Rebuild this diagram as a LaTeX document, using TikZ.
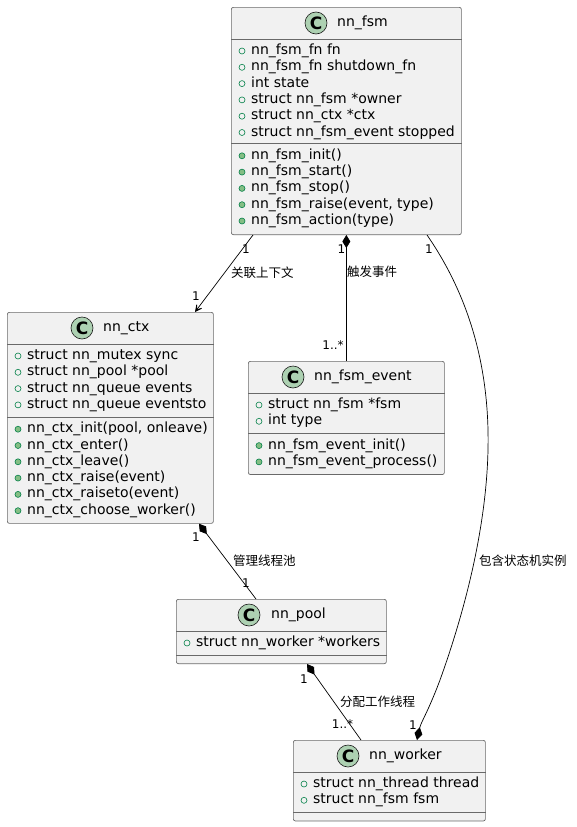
\documentclass[tikz,border=0pt]{standalone}
\usepackage{fontspec}
\setmainfont{DejaVu Sans}
\newfontfamily\cjkfont{Noto Sans CJK SC}
\usetikzlibrary{arrows.meta}
\definecolor{boxgray}{HTML}{F1F1F1}
\definecolor{boxline}{HTML}{181818}
\definecolor{spotgreen}{HTML}{ADD1B2}
\definecolor{darkgreen}{HTML}{038048}
\definecolor{lightgreen}{HTML}{84BE84}
\begin{document}
\begin{tikzpicture}[x=1pt, y=-1pt,
		classbox/.style={draw=boxline!65, fill=boxgray, rounded corners=2pt, line width=0.7pt, inner sep=0, anchor=north west},
		sepline/.style={draw=boxline!65, line width=0.7pt},
		spot/.style={circle, draw=boxline, fill=spotgreen, line width=0.6pt, minimum size=22pt, inner sep=0, font=\fontsize{17}{17}\selectfont\bfseries},
		cname/.style={anchor=west, inner sep=0, text height=10pt, text depth=3pt, font=\fontsize{14}{14}\selectfont},
		member/.style={anchor=west, inner sep=0, text height=10pt, text depth=3pt, font=\fontsize{14}{14}\selectfont},
		field/.style={circle, draw=darkgreen, line width=0.6pt, minimum size=6pt, inner sep=0},
		method/.style={field, fill=lightgreen},
		rel/.style={draw=black, line width=0.7pt},
		comp/.style={rel, {Diamond[length=13pt,width=8pt]}-},
		assoc/.style={rel, -{Stealth[length=10pt,width=10pt,inset=6.5pt]}},
		mult/.style={inner sep=0, font=\fontsize{12}{12}\selectfont},
		relname/.style={anchor=west, inner sep=0, font=\cjkfont\fontsize{12.5}{12.5}\selectfont}
	]
	\useasboundingbox (0,0) rectangle (576,827);

	% nn_fsm
	\node[classbox, minimum width=230, minimum height=227.3] (fsm) at (231,7) {};
	\draw[sepline] ([yshift=-32pt]fsm.north west) -- ([yshift=-32pt]fsm.north east);
	\draw[sepline] ([yshift=-136.8pt]fsm.north west) -- ([yshift=-136.8pt]fsm.north east);
	\node[spot] (fsm-c) at (316,23) {C};
	\node[cname] (fsm-t) at (337,23) {nn\_fsm};
	\foreach \m [count=\i from 0] in {nn\_fsm\_fn fn, nn\_fsm\_fn shutdown\_fn, int state, struct nn\_fsm *owner, struct nn\_ctx *ctx, struct nn\_fsm\_event stopped} {
		\node[field] (fsm-f\i) at (242,51+16.3*\i) {};
		\node[member] (fsm-a\i) at (251,51+16.3*\i) {\m};
	}
	\foreach \m [count=\i from 0] in {nn\_fsm\_init(), nn\_fsm\_start(), nn\_fsm\_stop(), {nn\_fsm\_raise(event, type)}, nn\_fsm\_action(type)} {
		\node[method] (fsm-g\i) at (242,155.8+16.3*\i) {};
		\node[member] (fsm-m\i) at (251,155.8+16.3*\i) {\m};
	}

	% nn_ctx
	\node[classbox, minimum width=206, minimum height=211] (ctx) at (7,312) {};
	\draw[sepline] ([yshift=-32pt]ctx.north west) -- ([yshift=-32pt]ctx.north east);
	\draw[sepline] ([yshift=-105.2pt]ctx.north west) -- ([yshift=-105.2pt]ctx.north east);
	\node[spot] (ctx-c) at (82,328) {C};
	\node[cname] (ctx-t) at (103,328) {nn\_ctx};
	\foreach \m [count=\i from 0] in {struct nn\_mutex sync, struct nn\_pool *pool, struct nn\_queue events, struct nn\_queue eventsto} {
		\node[field] (ctx-f\i) at (18,356+16.3*\i) {};
		\node[member] (ctx-a\i) at (27,356+16.3*\i) {\m};
	}
	\foreach \m [count=\i from 0] in {{nn\_ctx\_init(pool, onleave)}, nn\_ctx\_enter(), nn\_ctx\_leave(), nn\_ctx\_raise(event), nn\_ctx\_raiseto(event), nn\_ctx\_choose\_worker()} {
		\node[method] (ctx-g\i) at (18,429.2+16.3*\i) {};
		\node[member] (ctx-m\i) at (27,429.2+16.3*\i) {\m};
	}

	% nn_fsm_event
	\node[classbox, minimum width=196, minimum height=113.2] (event) at (248,361) {};
	\draw[sepline] ([yshift=-32pt]event.north west) -- ([yshift=-32pt]event.north east);
	\draw[sepline] ([yshift=-72.6pt]event.north west) -- ([yshift=-72.6pt]event.north east);
	\node[spot] (event-c) at (293,377) {C};
	\node[cname] (event-t) at (314,377) {nn\_fsm\_event};
	\foreach \m [count=\i from 0] in {struct nn\_fsm *fsm, int type} {
		\node[field] (event-f\i) at (259,405+16.3*\i) {};
		\node[member] (event-a\i) at (268,405+16.3*\i) {\m};
	}
	\foreach \m [count=\i from 0] in {nn\_fsm\_event\_init(), nn\_fsm\_event\_process()} {
		\node[method] (event-g\i) at (259,445.6+16.3*\i) {};
		\node[member] (event-m\i) at (268,445.6+16.3*\i) {\m};
	}

	% nn_pool
	\node[classbox, minimum width=210, minimum height=64.3] (pool) at (176,599) {};
	\draw[sepline] ([yshift=-32pt]pool.north west) -- ([yshift=-32pt]pool.north east);
	\draw[sepline] ([yshift=-56.3pt]pool.north west) -- ([yshift=-56.3pt]pool.north east);
	\node[spot] (pool-c) at (249,615) {C};
	\node[cname] (pool-t) at (271,615) {nn\_pool};
	\node[field] (pool-f0) at (187,643) {};
	\node[member] (pool-a0) at (196,643) {struct nn\_worker *workers};

	% nn_worker
	\node[classbox, minimum width=192, minimum height=80.6] (worker) at (293,740) {};
	\draw[sepline] ([yshift=-32pt]worker.north west) -- ([yshift=-32pt]worker.north east);
	\draw[sepline] ([yshift=-72.6pt]worker.north west) -- ([yshift=-72.6pt]worker.north east);
	\node[spot] (worker-c) at (348,756) {C};
	\node[cname] (worker-t) at (369,756) {nn\_worker};
	\foreach \m [count=\i from 0] in {struct nn\_thread thread, struct nn\_fsm fsm} {
		\node[field] (worker-f\i) at (304,784+16.3*\i) {};
		\node[member] (worker-a\i) at (313,784+16.3*\i) {\m};
	}

	% relations
	\draw[assoc] ([xshift=22pt]fsm.south west) -- ([xshift=188pt]ctx.north west);
	\draw[comp] (fsm.south) -- (fsm.south |- event.north);
	\draw[comp] ([xshift=192pt]ctx.south west) -- ([xshift=80pt]pool.north west);
	\draw[comp] ([xshift=131pt]pool.south west) -- ([xshift=68pt]worker.north west);
	\draw[rel, -{Diamond[length=13pt,width=8pt]}] ([xshift=196pt]fsm.south west)
		.. controls (465,290) and (490,360) .. (488,450)
		.. controls (486,540) and (458,630) .. (440,680)
		.. controls (428,712) and (421,722) .. ([xshift=124pt]worker.north west);

	\node[relname] (l-ctx) at (231,273) {关联上下文};
	\node[relname] (l-event) at (347,272) {触发事件};
	\node[relname] (l-pool) at (233,561) {管理线程池};
	\node[relname] (l-worker) at (340,702) {分配工作线程};
	\node[relname] (l-fsm) at (479,561) {包含状态机实例};

	\node[mult] (n-fsm1) at (246,249) {1};
	\node[mult] (n-ctx1) at (196,296) {1};
	\node[mult] (n-fsm2) at (341.5,249) {1};
	\node[mult] (n-event) at (333,345) {1..*};
	\node[mult] (n-fsm3) at (429,249) {1};
	\node[mult] (n-ctx2) at (196,537) {1};
	\node[mult] (n-pool1) at (246,583) {1};
	\node[mult] (n-pool2) at (304,679) {1};
	\node[mult] (n-worker1) at (342.5,724) {1..*};
	\node[mult] (n-worker2) at (413,725) {1};
\end{tikzpicture}
\end{document}
